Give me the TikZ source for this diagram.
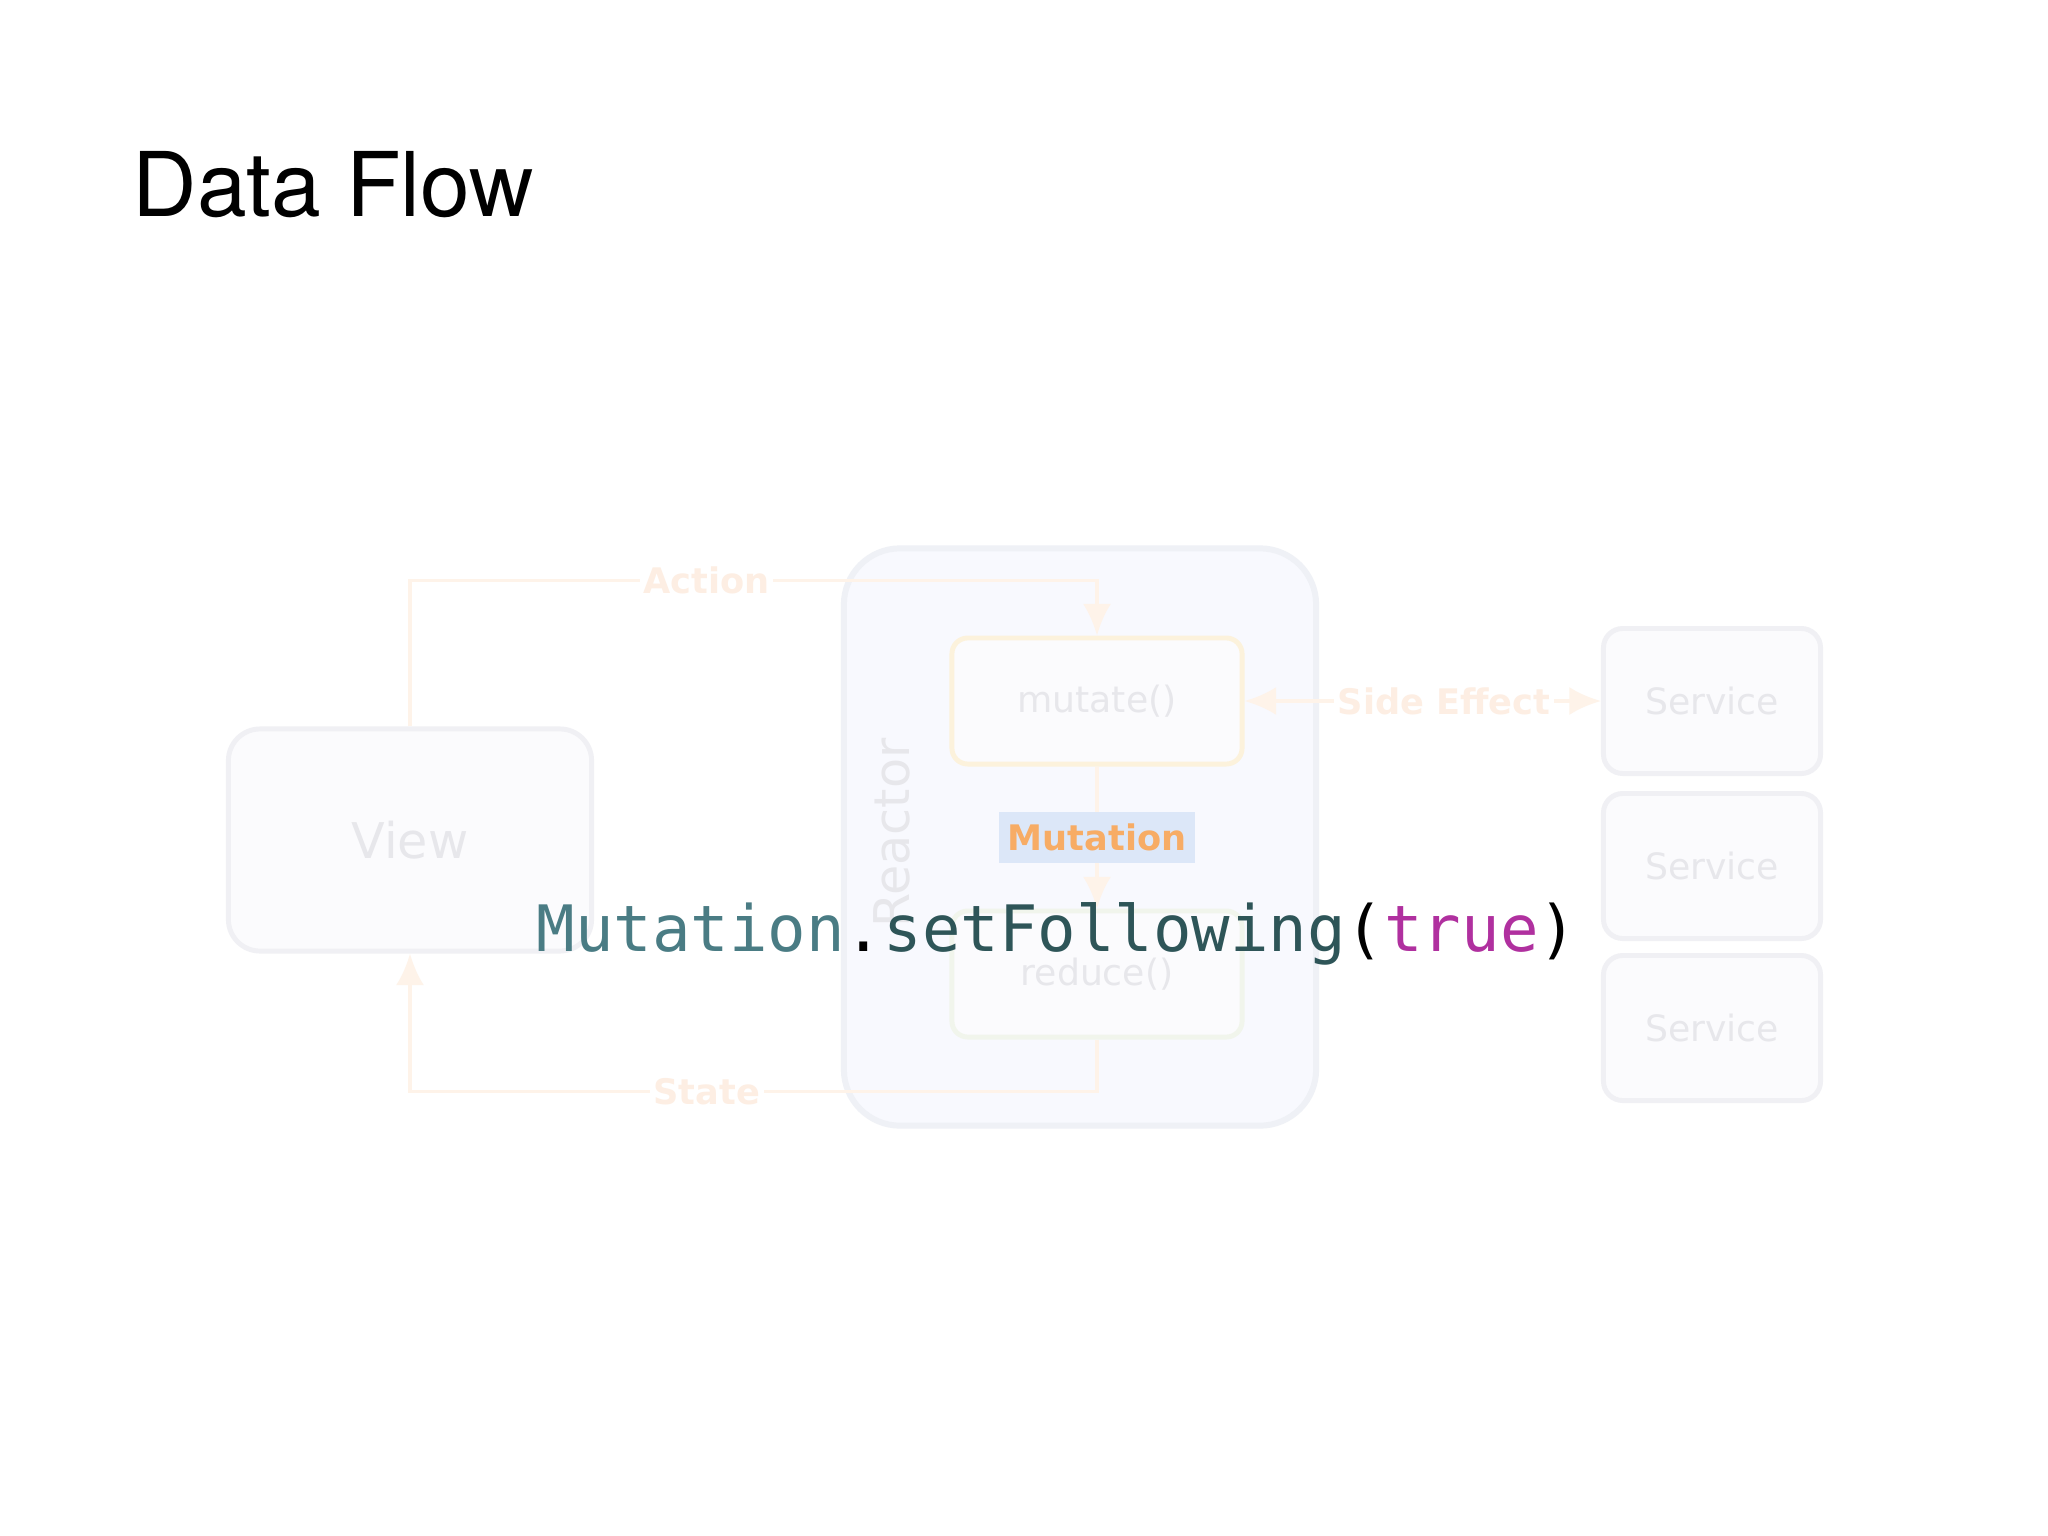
\documentclass[tikz,border=0pt]{standalone}
\usepackage{fontspec}
\setmainfont{DejaVu Sans}
\newfontfamily\titlefont{TeX Gyre Heros}
\newfontfamily\codefont{DejaVu Sans Mono}
\usetikzlibrary{arrows.meta}
\definecolor{boxline}{HTML}{F0F0F4}
\definecolor{boxfill}{HTML}{FBFBFD}
\definecolor{faded}{HTML}{E7E7EB}
\definecolor{flowline}{HTML}{FEF3E9}
\definecolor{flowtext}{HTML}{FDEEE3}
\definecolor{reactline}{HTML}{EFF1F6}
\definecolor{reactfill}{HTML}{F8F9FE}
\definecolor{mutateline}{HTML}{FCF2DC}
\definecolor{reduceline}{HTML}{F1F5EC}
\definecolor{mutbg}{HTML}{DCE7F8}
\definecolor{mutorange}{HTML}{F7AC65}
\definecolor{codeteal}{HTML}{4A7C84}
\definecolor{codedark}{HTML}{2E5558}
\definecolor{codepink}{HTML}{B0309F}

\begin{document}
\begin{tikzpicture}[x=0.01cm,y=-0.01cm,
  box/.style={draw=boxline,line width=1.4pt,fill=boxfill,text=faded,font=\fontsize{10.3}{12}\selectfont},
  inner/.style={box,minimum width=2.9cm,minimum height=1.26cm,rounded corners=4.5pt},
  service/.style={box,minimum width=2.17cm,minimum height=1.45cm,rounded corners=5.5pt},
  flow/.style={draw=flowline,line width=1.1pt,-{Latex[length=9pt,width=8pt]}},
  flowlabel/.style={text=flowtext,fill=white,inner sep=1pt,font=\bfseries\fontsize{10}{12}\selectfont}]
  \useasboundingbox[fill=white] (0,0) rectangle (2048,1536);

  \node[anchor=base west,inner sep=0,font=\titlefont\fontsize{25.4}{30}\selectfont] (title) at (132,216) {Data Flow};

  \node[box,minimum width=3.63cm,minimum height=2.22cm,rounded corners=9pt,font=\fontsize{14}{16}\selectfont] (view) at (410,840) {View};
  \node[draw=reactline,line width=1.7pt,fill=reactfill,minimum width=4.72cm,minimum height=5.77cm,rounded corners=16pt] (reactor) at (1080,837) {};
  \node[rotate=90,text=faded,font=\fontsize{14}{16}\selectfont] (reactorlabel) at (892,833) {Reactor};
  \node[inner,draw=mutateline] (mutate) at (1097,701) {mutate()};
  \node[inner,draw=reduceline] (reduce) at (1097,974) {reduce()};
  \foreach \y/\n in {701/1,866/2,1028/3}
    \node[service] (service\n) at (1712,\y) {Service};

  \draw[flow] (view.north) |- node[flowlabel,pos=0.716] {Action} ([yshift=0.55cm]mutate.north) -- (mutate.north);
  \draw[flow] (mutate.south) -- node[fill=mutbg,text=mutorange,inner xsep=0.09cm,minimum height=0.39cm,font=\bfseries\fontsize{10}{12}\selectfont] (mutation) {Mutation} (reduce.north);
  \draw[flow] (reduce.south) -- ++(0,52) -| node[flowlabel,pos=0.284] {State} (view.south);
  \draw[flow,{Latex[length=9pt,width=8pt]}-{Latex[length=9pt,width=8pt]}] (mutate.east) -- node[flowlabel,pos=0.56] {Side Effect} (service1.west);

  \node[anchor=base west,inner sep=0,font=\codefont\fontsize{18.2}{22}\selectfont] (code) at (536,951)
    {\textcolor{codeteal}{Mutation}.\textcolor{codedark}{setFollowing}(\textcolor{codepink}{true})};
\end{tikzpicture}
\end{document}
